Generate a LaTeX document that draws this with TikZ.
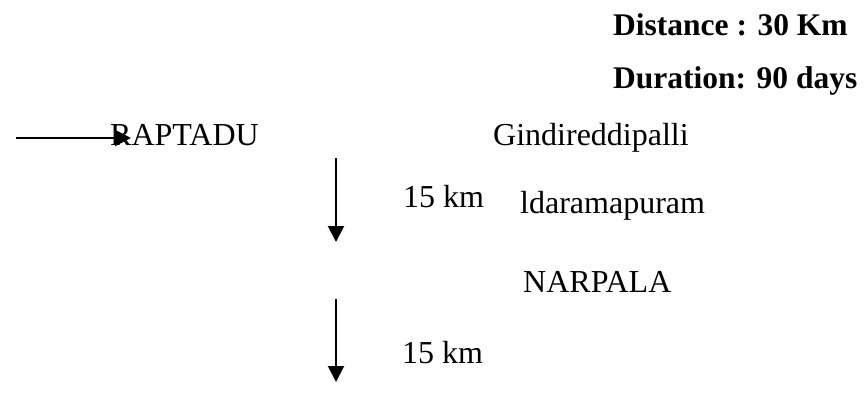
\documentclass[tikz,border=0pt]{standalone}
\usepackage{fontspec}
\setmainfont{Liberation Serif}
\usetikzlibrary{arrows.meta}
\begin{document}
\begin{tikzpicture}[x=1pt,y=-1pt,
  label text/.style={anchor=base west,inner sep=0pt,font=\fontsize{32}{36}\selectfont},
  head text/.style={label text,font=\fontsize{31.5}{36}\selectfont\bfseries},
  route/.style={line width=2pt,-{Triangle[length=16pt,width=16pt]}}]
\useasboundingbox (0,0) rectangle (867,394);
% summary
\node[head text] (dist) at (613,35) {Distance : 30 Km};
\node[head text] (dur) at (613,88) {Duration: 90 days};
% villages
\node[label text] (rap) at (110,145) {RAPTADU};
\node[label text] (gin) at (493,145) {Gindireddipalli};
\node[label text] (ida) at (520,213) {ldaramapuram};
\node[label text] (nar) at (523,292) {NARPALA};
% distances
\node[label text] (d1) at (403,207) {15 km};
\node[label text] (d2) at (402,363) {15 km};
% arrows
\coordinate (in) at (16,138);
\coordinate (in tip) at (131,138);
\draw[route] (in) -- (in tip);
\coordinate (a1) at (336,158);
\coordinate (a1 tip) at (336,242);
\draw[route] (a1) -- (a1 tip);
\coordinate (a2) at (336,299);
\coordinate (a2 tip) at (336,382);
\draw[route] (a2) -- (a2 tip);
\end{tikzpicture}
\end{document}
